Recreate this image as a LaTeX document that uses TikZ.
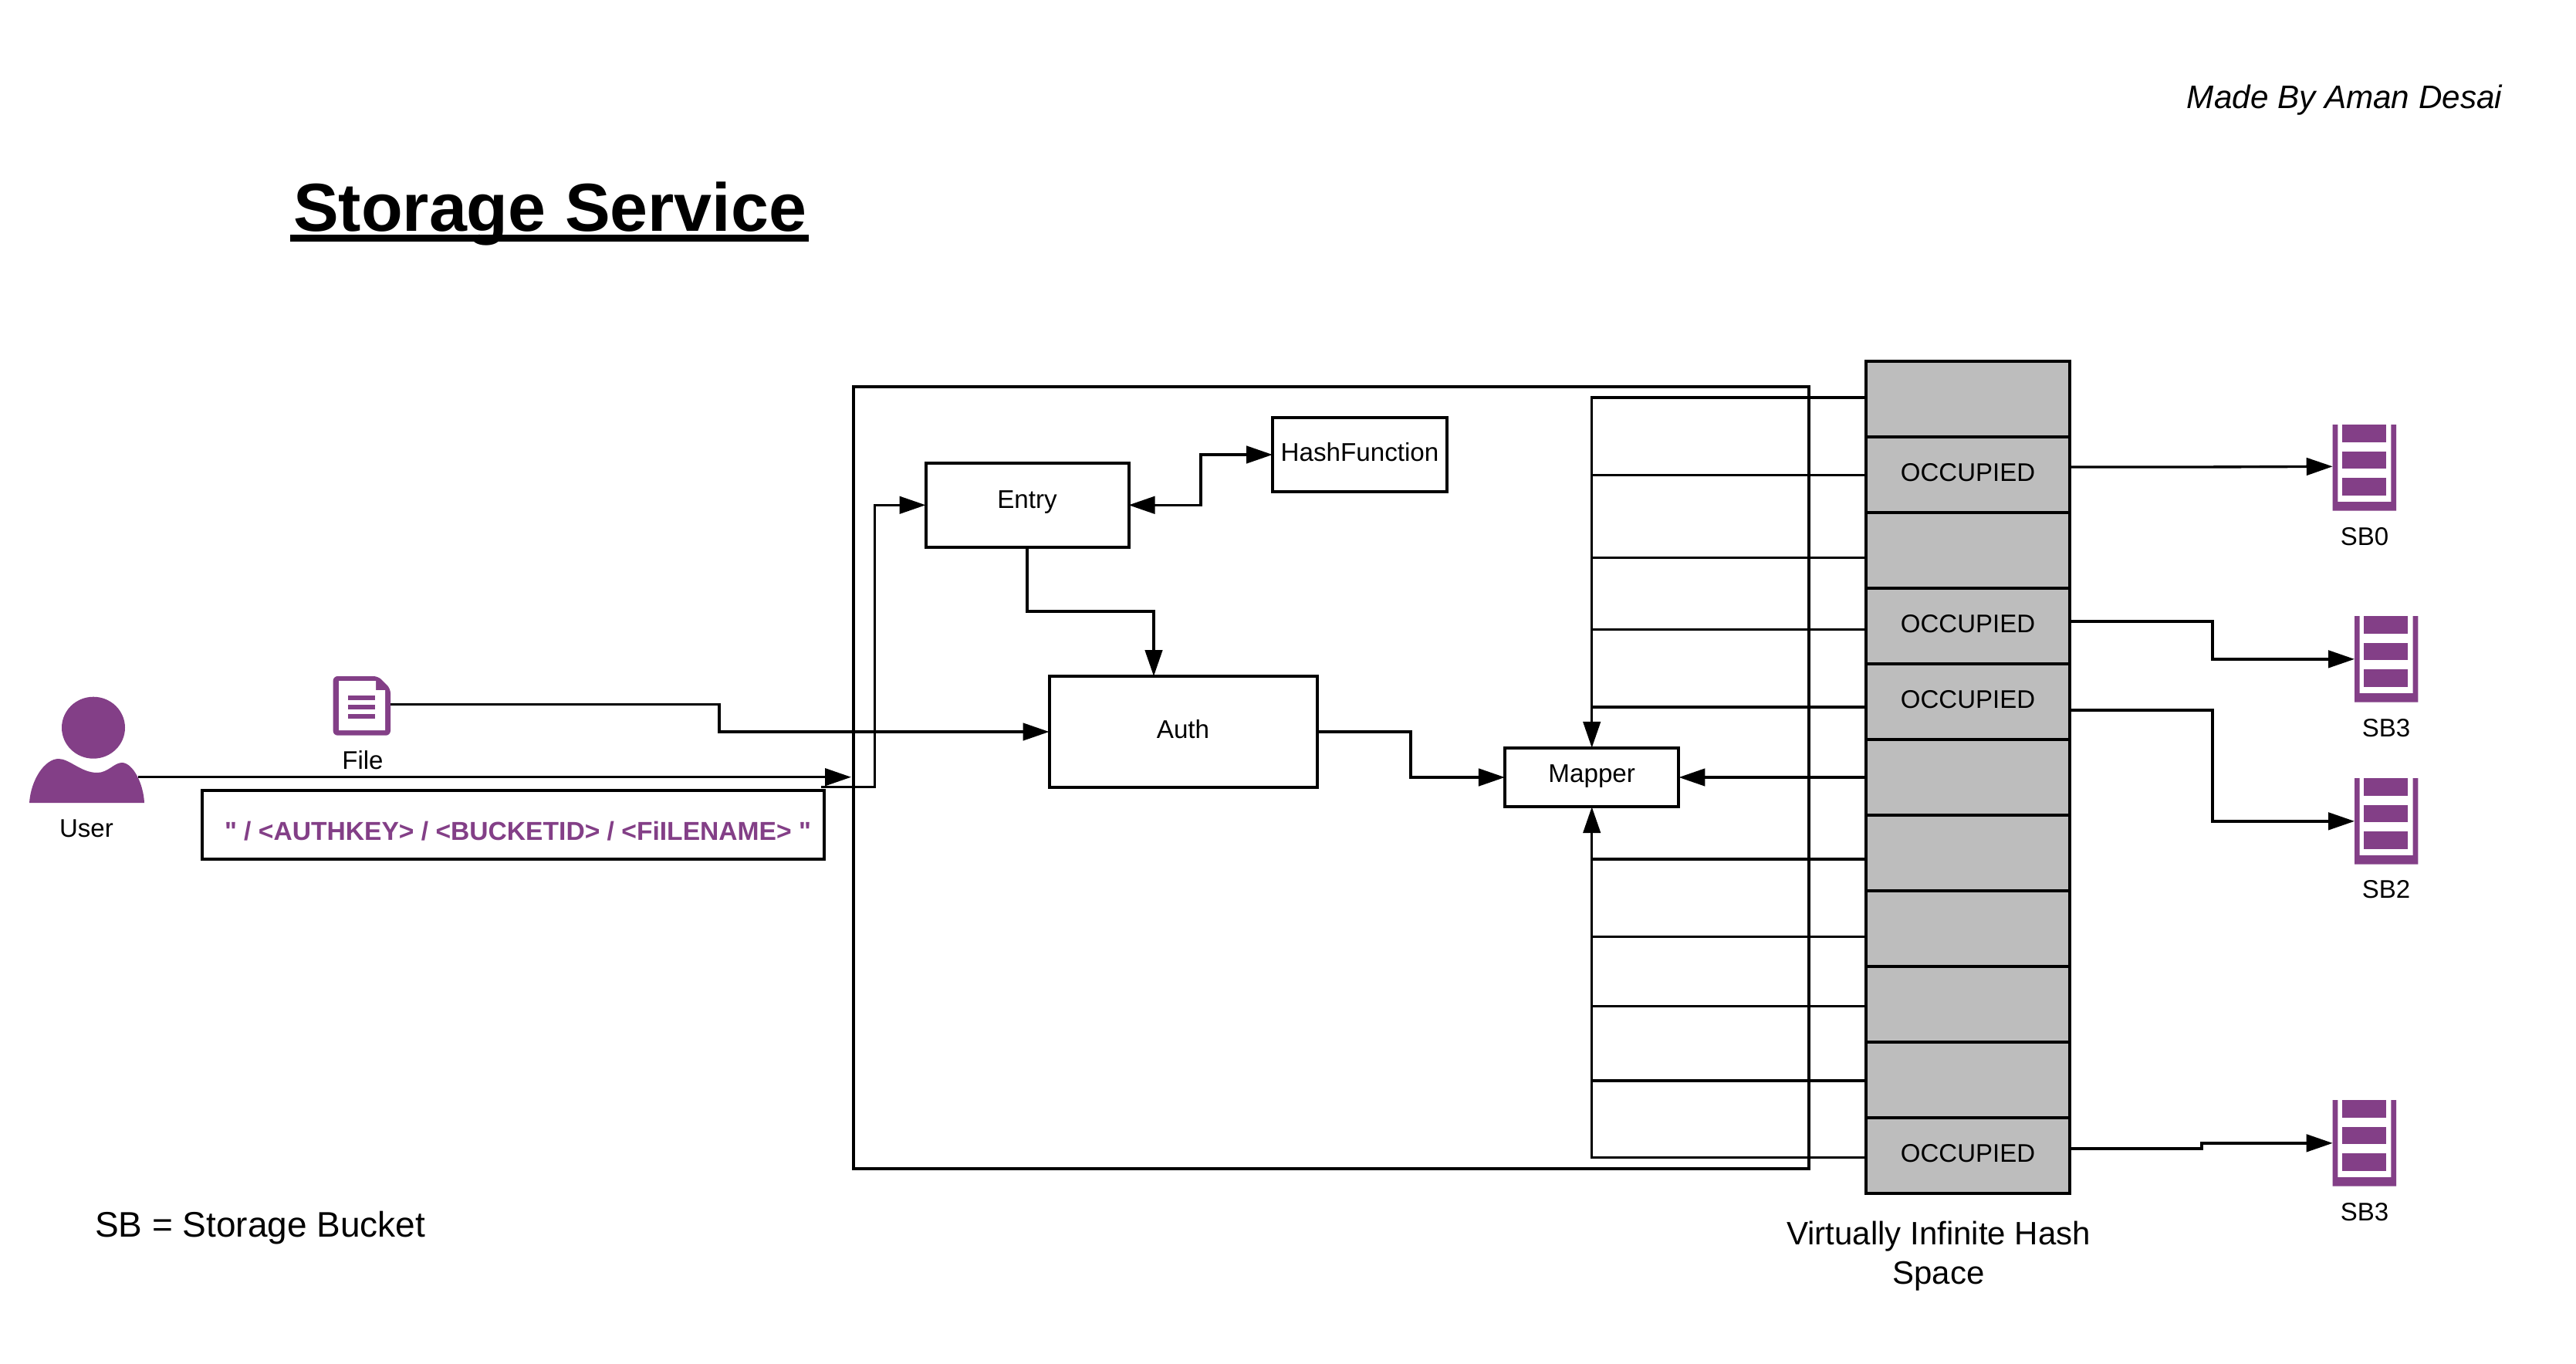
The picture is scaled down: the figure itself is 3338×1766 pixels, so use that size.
\documentclass[tikz,border=0pt]{standalone}
\usepackage{fontspec}
\setmainfont{Liberation Sans}[Ligatures=TeXOff]
\usetikzlibrary{arrows.meta}
\definecolor{brandpurple}{HTML}{833F87}
\definecolor{cellgrey}{HTML}{BDBDBD}
\newcommand{\sbicon}[3]{%
  \node[iconbox] (#1) at (#2+41.15,#3+55.85) {};
  \begin{scope}[shift={(#2,#3)}]
    \fill[brandpurple] (0,0) -- (6.7,0) -- (6.7,100) -- (75.6,100) -- (75.6,0) -- (82.3,0) -- (82.3,111.7) -- (0,111.7) -- cycle;
    \fill[brandpurple] (12.3,0) rectangle (69.3,22.7);
    \fill[brandpurple] (12.3,35) rectangle (69.3,56.7);
    \fill[brandpurple] (12.3,69) rectangle (69.3,92);
  \end{scope}}
\tikzset{
  x=0.25pt, y=-0.25pt,
  every node/.style={inner sep=0pt, outer sep=0pt},
  conn/.style={draw=black, line width=0.85pt, -{Triangle[length=8.5pt,width=5.6pt]}, line join=miter},
  link/.style={draw=black, line width=0.85pt},
  boxed/.style={draw=black, fill=white, line width=1pt, font=\fontsize{8.3}{10}\selectfont, text height=6.6pt, text depth=2.2pt},
  cell/.style={draw=black, fill=cellgrey, line width=1pt, minimum width=264*0.25pt, minimum height=98*0.25pt, font=\fontsize{8.25}{10}\selectfont, text height=6.6pt, text depth=2.2pt},
  iconbox/.style={minimum width=82.3*0.25pt, minimum height=111.7*0.25pt},
  small/.style={font=\fontsize{8.25}{10}\selectfont},
}
\begin{document}
\begin{tikzpicture}
\useasboundingbox (0,0) rectangle (3338,1766);
\fill[white] (0,0) rectangle (3338,1766);

% title and notes
\node[anchor=base west, font=\bfseries\fontsize{22}{26}\selectfont] (title) at (380,299) {Storage Service};
\coordinate (ula) at (376,308.3);
\coordinate (ulb) at (1048,308.3);
\draw[line width=2.2pt] (ula) -- (ulb);
\node[anchor=base east, font=\itshape\fontsize{10.55}{13}\selectfont] (madeby) at (3242,141) {Made By Aman Desai};
\node[anchor=base west, font=\fontsize{11.5}{13}\selectfont] (legend) at (123,1602) {SB = Storage Bucket};
\node[font=\fontsize{10.5}{12.75}\selectfont, align=center] (hashlabel) at (2512,1627) {Virtually Infinite Hash\\Space};

% outer frame
\node[draw=black, line width=1pt, minimum width=1238*0.25pt, minimum height=1012.5*0.25pt] (frame) at (1725,1007.25) {};

% main boxes
\node[boxed, minimum width=263*0.25pt, minimum height=109*0.25pt, text height=4.4pt] (entry) at (1331,654.3) {Entry};
\node[boxed, minimum width=226*0.25pt, minimum height=96*0.25pt] (hash) at (1762,589) {HashFunction};
\node[boxed, minimum width=347*0.25pt, minimum height=144*0.25pt] (auth) at (1533,948) {Auth};
\node[boxed, minimum width=225.5*0.25pt, minimum height=76.4*0.25pt, text height=5.6pt] (mapper) at (2062.7,1007) {Mapper};
\node[boxed, minimum width=806*0.25pt, minimum height=88.7*0.25pt, text=brandpurple, font=\bfseries\fontsize{8.4}{10}\selectfont, text height=12pt, text depth=2.2pt] (path) at (665,1068.4) {\hspace*{3pt}" / <AUTHKEY> / <BUCKETID> / <FiILENAME> "};

% user icon
\node[minimum width=149*0.25pt, minimum height=138*0.25pt] (user) at (112.5,971) {};
\fill[brandpurple] (121,942.7) ellipse [x radius=41, y radius=40];
\fill[brandpurple] (38,1040) .. controls (40,1010) and (58,983) .. (76,983) .. controls (90,983) and (105,1001) .. (126,1001) .. controls (140,1001) and (148,988) .. (158,988) .. controls (172,988) and (186,1015) .. (187,1040) -- cycle;
\node[small] (userlabel) at (112,1073) {User};

% file icon
\node[minimum width=74.4*0.25pt, minimum height=76.7*0.25pt] (file) at (468.8,914.3) {};
\fill[brandpurple, rounded corners=1.5pt] (431.6,876) -- (490,876) -- (506,892) -- (506,952.7) -- (431.6,952.7) -- cycle;
\fill[white] (439,882) -- (487,882) -- (487,894) -- (499,894) -- (499,946) -- (439,946) -- cycle;
\fill[brandpurple] (450.7,901) rectangle (486,907);
\fill[brandpurple] (450.7,913) rectangle (486,919);
\fill[brandpurple] (450.7,925) rectangle (486,931);
\node[small] (filelabel) at (470,985) {File};

% coordinates for connector ends
\coordinate (usr) at (179,1006.7);
\coordinate (framein) at (1103,1006.7);
\coordinate (reqstart) at (1064,1019.6);
\coordinate (filestart) at (506,912.7);
\foreach \n/\y in {t0/515,t1/615.5,t2/722.5,t3/815.5,t4/916,t5/1007,t6/1113,t7/1213.5,t8/1303.7,t9/1400,t10/1499.6}
  \coordinate (\n) at (2418,\y);

% connectors left part
\draw[conn] (usr) -- (framein);
\draw[conn] (reqstart) -- (1133.3,1019.6) |- (entry.west);
\draw[conn] (filestart) -- (932,912.7) |- (auth.west);
\draw[conn, {Triangle[length=8.5pt,width=5.6pt]}-{Triangle[length=8.5pt,width=5.6pt]}] (entry.east) -- (1556,654.3) |- (hash.west);
\coordinate (authtop) at (1495,876);
\draw[conn] (entry.south) -- (1331,792) -| (authtop);
\draw[conn] (auth.east) -- (1828,948) |- (mapper.west);

% connectors from the hash space to the mapper
\draw[conn] (t0) -| (mapper.north);
\foreach \n in {t1,t2,t3,t4}
  \draw[link] (\n) -- (\n -| mapper.north);
\draw[conn] (t5) -- (mapper.east);
\draw[conn] (t10) -| (mapper.south);
\foreach \n in {t6,t7,t8,t9}
  \draw[link] (\n) -- (\n -| mapper.south);

% hash space cells
\node[cell, minimum height=97.9*0.25pt] (c0) at (2550,516.75) {};
\node[cell] (c1) at (2550,614.7) {OCCUPIED};
\node[cell] (c2) at (2550,712.7) {};
\node[cell] (c3) at (2550,810.8) {OCCUPIED};
\node[cell] (c4) at (2550,909) {OCCUPIED};
\node[cell] (c5) at (2550,1007) {};
\node[cell] (c6) at (2550,1104.5) {};
\node[cell] (c7) at (2550,1202.7) {};
\node[cell] (c8) at (2550,1301) {};
\node[cell] (c9) at (2550,1398.5) {};
\node[cell] (c10) at (2550,1496.5) {OCCUPIED};

% storage buckets
\sbicon{sb0}{3022.7}{550}
\sbicon{sb1}{3051}{798}
\sbicon{sb2}{3051}{1008}
\sbicon{sb3}{3022.7}{1425}
\node[small] (sb0l) at (3064,695) {SB0};
\node[small] (sb1l) at (3092,943) {SB3};
\node[small] (sb2l) at (3092,1152) {SB2};
\node[small] (sb3l) at (3064,1570) {SB3};

\coordinate (o0) at (2682,605);
\coordinate (o1) at (2682,805);
\coordinate (o2) at (2682,920);
\coordinate (o3) at (2682,1487.8);
\coordinate (sb0in) at (3022.7,604.3);
\draw[conn] (o0) -- (2855,605) -- (sb0in);
\draw[conn] (o1) -- (2867,805) |- (sb1.west);
\draw[conn] (o2) -- (2867,920) |- (sb2.west);
\draw[conn] (o3) -- (2853,1487.8) |- (sb3.west);
\end{tikzpicture}
\end{document}
